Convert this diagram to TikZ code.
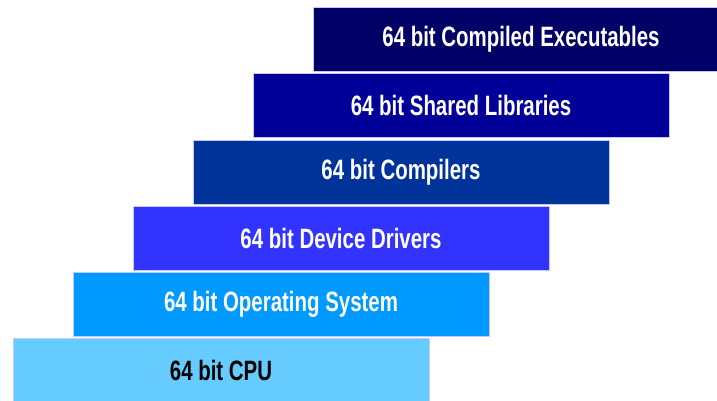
\documentclass[tikz,border=0pt]{standalone}
\usepackage{fontspec}
\usepackage{xcolor}
\usepackage{tikz}
\newfontfamily\layerfont[FakeStretch=0.73]{Liberation Sans}
\definecolor{cpuc}{HTML}{66CCFF}
\definecolor{osc}{HTML}{0099FF}
\definecolor{drvc}{HTML}{3333FF}
\definecolor{cmpc}{HTML}{003399}
\definecolor{libc}{HTML}{000099}
\definecolor{exec}{HTML}{000066}

\begin{document}
\begin{tikzpicture}[x=1pt,y=-1pt,
  layer/.style={rectangle,draw=blue!22,line width=0.6pt,minimum width=416pt,minimum height=64pt,
    inner sep=0pt,text=white,font=\layerfont\bfseries\fontsize{28}{30}\selectfont}]
  \clip (0,0) rectangle (717,401);
  \node[layer,fill=cpuc,text=black] (cpu) at (221,370) {64 bit CPU};
  \node[layer,fill=osc] (os) at (281,304) {64 bit Operating System};
  \node[layer,fill=drvc] (drv) at (341,238) {64 bit Device Drivers};
  \node[layer,fill=cmpc] (cmp) at (401,172) {64 bit Compilers};
  \node[layer,fill=libc] (lib) at (461,105) {64 bit Shared Libraries};
  \node[layer,fill=exec] (exe) at (521,39) {64 bit Compiled Executables};
\end{tikzpicture}
\end{document}
